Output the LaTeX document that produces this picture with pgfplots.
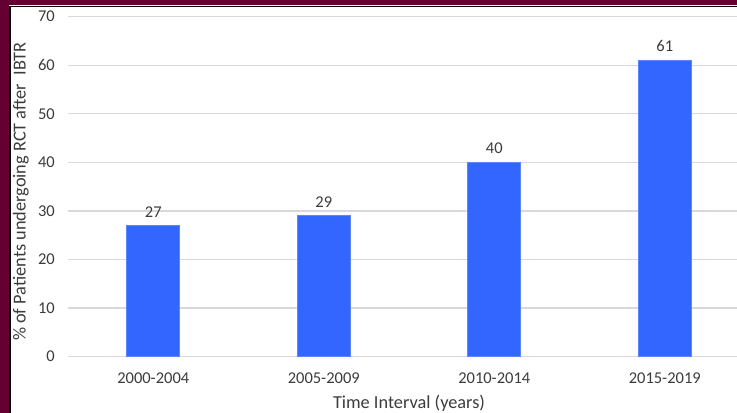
\documentclass[border=0pt]{standalone}
\usepackage{pgfplots}
\pgfplotsset{compat=1.18}
\usepackage{fontspec}
\setmainfont{Carlito}

\definecolor{barblue}{RGB}{51,102,255}
\definecolor{gridgray}{RGB}{217,217,217}
\definecolor{labelgray}{RGB}{60,60,60}
\definecolor{frame}{RGB}{102,0,51}

\begin{document}
\begin{tikzpicture}
\path[use as bounding box] (0,0) rectangle (737bp,413bp);
\fill[white] (0,0) rectangle (737bp,413bp);
\begin{axis}[
  at={(68bp,56.5bp)}, anchor=south west,
  scale only axis,
  width=682bp, height=339.8bp,
  xmin=-0.5, xmax=3.5,
  ymin=0, ymax=70,
  ytick={0,10,...,70},
  xtick={0,1,2,3},
  xticklabels={2000-2004,2005-2009,2010-2014,2015-2019},
  major tick length=0pt,
  axis line style={draw=none},
  ymajorgrids,
  grid style={draw=gridgray, line width=1.3bp},
  /pgf/number format/assume math mode=true,
  tick label style={font=\fontsize{16.5bp}{19bp}\selectfont, text=labelgray},
  yticklabel style={anchor=east, inner sep=0pt, xshift=-13bp},
  xticklabel style={anchor=north, inner sep=0pt, yshift=-16bp},
  xlabel={Time Interval (years)},
  ylabel={\% of Patients undergoing RCT after\ \ IBTR},
  label style={font=\fontsize{18.3bp}{21bp}\selectfont, text=labelgray},
  xlabel style={at={(axis description cs:0.5,0)}, anchor=north, inner sep=0pt, yshift=-38.5bp},
  ylabel style={at={(axis description cs:-0.069,0.485)}, anchor=center, inner sep=0pt},
  ybar, bar width=53bp,
  nodes near coords,
  every node near coord/.append style={anchor=south, inner sep=0pt, yshift=8bp,
    font=\fontsize{16.5bp}{19bp}\selectfont, text=labelgray},
]
\addplot[fill=barblue, draw=barblue!80!white, line width=0.6bp] coordinates {(0,27) (1,29) (2,40) (3,61)};
\end{axis}
% slide frame along the left and top edges
\fill[frame] (0,0) rectangle (9bp,413bp);
\fill[frame] (0,407.5bp) rectangle (737bp,413bp);
\draw[black, line width=1.8bp] (10bp,0) -- (10bp,406.5bp) -- (737bp,406.5bp);
\end{tikzpicture}
\end{document}
